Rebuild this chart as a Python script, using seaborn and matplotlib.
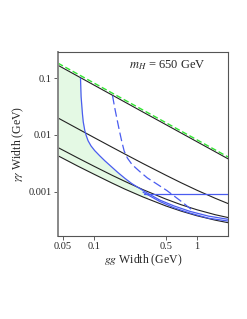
import numpy as np
import pandas as pd
import matplotlib
matplotlib.use("Agg")
import matplotlib.pyplot as plt
import seaborn as sns

# gg width grid (GeV) used for the black contours
gg_grid = [0.045, 0.07, 0.1, 0.15, 0.2, 0.3, 0.5, 0.7, 1.0, 1.5, 2.0]

# black contours (gamma gamma width, GeV)
line1 = [0.169, 0.1086, 0.076, 0.0507, 0.038, 0.0253, 0.0152, 0.01086, 0.0076, 0.00507, 0.0038]
line2 = [0.0199, 0.01286, 0.00905, 0.00609, 0.00461, 0.00313, 0.00195, 0.00144, 0.00106, 0.000766, 0.000618]
line3 = [0.00599, 0.00393, 0.00282, 0.00195, 0.00152, 0.001085, 0.00074, 0.00059, 0.00048, 0.000393, 0.00035]
line4 = [0.00429, 0.00282, 0.00204, 0.00142, 0.00111, 0.000806, 0.00056, 0.000455, 0.000376, 0.000315, 0.000284]

# green dashed bound
green_x = [0.045, 2.0]
green_y = [0.184, 0.0041]

# blue solid curve (main)
blueA_x = [0.0743, 0.0753, 0.0776, 0.079, 0.0818, 0.0845, 0.088, 0.094, 0.102, 0.114, 0.128, 0.15, 0.17, 0.2,
           0.232, 0.27, 0.313, 0.437, 0.6, 0.855, 1.3, 2.0]
blueA_y = [0.1, 0.0473, 0.0234, 0.017, 0.0119, 0.0097, 0.0079, 0.0064, 0.0053, 0.0043, 0.0035, 0.0027, 0.0022, 0.00172,
           0.0014, 0.00118, 0.001, 0.00071, 0.00056, 0.00045, 0.00037, 0.000326]

# blue solid curve (lower branch)
blueB_x = [0.3, 0.437, 0.6, 0.855, 1.3, 2.0]
blueB_y = [0.00098, 0.00067, 0.00052, 0.00042, 0.00034, 0.000304]

# blue flat line
flat_x = [0.31, 2.0]
flat_y = [0.0009, 0.0009]

# blue dashed curve
dash_x = [0.152, 0.159, 0.166, 0.176, 0.186, 0.197, 0.212, 0.235, 0.28, 0.33, 0.4, 0.51, 0.7, 0.89]
dash_y = [0.049, 0.031, 0.021, 0.0125, 0.0079, 0.0052, 0.0039, 0.003, 0.00225, 0.00175, 0.0014, 0.00105, 0.00068, 0.00048]

xticks = [0.05, 0.1, 0.5, 1]
xticklabels = ["0.05", "0.1", "0.5", "1"]
yticks = [0.1, 0.01, 0.001]
yticklabels = ["0.1", "0.01", "0.001"]

sns.set_style("white")
plt.rcParams['font.family'] = ['Liberation Serif', 'DejaVu Serif']
plt.rcParams['mathtext.fontset'] = 'stix'

black = '#222222'
blue = '#4a5cf0'

fig = plt.figure(figsize=(2.47, 3.19), dpi=100)
ax = fig.add_axes([0.235, 0.26, 0.688, 0.577])

# shaded allowed region: between lowest contour and min(top contour, blue curve)
lg = np.log10
xs = np.logspace(lg(0.045), lg(0.33), 200)
up1 = 10 ** np.interp(lg(xs), lg(gg_grid), lg(line1))
upA = 10 ** np.interp(lg(xs), lg(blueA_x), lg(blueA_y), left=10.0)
low = 10 ** np.interp(lg(xs), lg(gg_grid), lg(line4))
ax.fill_between(xs, low, np.minimum(up1, upA), color='#e4f9e4', lw=0, zorder=0)

for yy in [line1, line2, line3, line4]:
    sns.lineplot(x=gg_grid, y=yy, ax=ax, color=black, lw=0.8, sort=False, estimator=None)

sns.lineplot(x=green_x, y=green_y, ax=ax, color='#33e533', lw=1.0, sort=False, estimator=None).lines[-1].set_dashes([4, 2])
sns.lineplot(x=blueA_x, y=blueA_y, ax=ax, color=blue, lw=0.9, sort=False, estimator=None)
sns.lineplot(x=blueB_x, y=blueB_y, ax=ax, color=blue, lw=0.9, sort=False, estimator=None)
sns.lineplot(x=flat_x, y=flat_y, ax=ax, color=blue, lw=0.9, sort=False, estimator=None)
sns.lineplot(x=dash_x, y=dash_y, ax=ax, color=blue, lw=0.9, sort=False, estimator=None).lines[-1].set_dashes([7, 3])

ax.set_xscale('log')
ax.set_yscale('log')
ax.set_xlim(0.045, 2.0)
ax.set_ylim(1.65e-4, 0.29)

ax.set_xticks(xticks)
ax.set_xticklabels(xticklabels)
ax.set_yticks(yticks)
ax.set_yticklabels(yticklabels)
ax.minorticks_off()
ax.tick_params(axis='both', which='major', labelsize=7.5, length=3, width=0.6, pad=1.5,
               color='#444444', direction='out', bottom=True, left=True)

ax.set_xlabel(r"$gg$ Width (GeV)", fontsize=8.5, labelpad=1)
ax.set_ylabel(r"$\gamma\gamma$ Width (GeV)", fontsize=8.5, labelpad=2)

ax.text(0.87, 0.965, r"$m_H$ = 650 GeV", transform=ax.transAxes, ha='right', va='top', fontsize=9)

for _, spine in ax.spines.items():
    spine.set_visible(True)
    spine.set_linewidth(0.8)
    spine.set_color('#555555')
ax.spines['left'].set_linewidth(1.4)
ax.spines['left'].set_color('#888888')

plt.savefig("out.png", dpi=100)
